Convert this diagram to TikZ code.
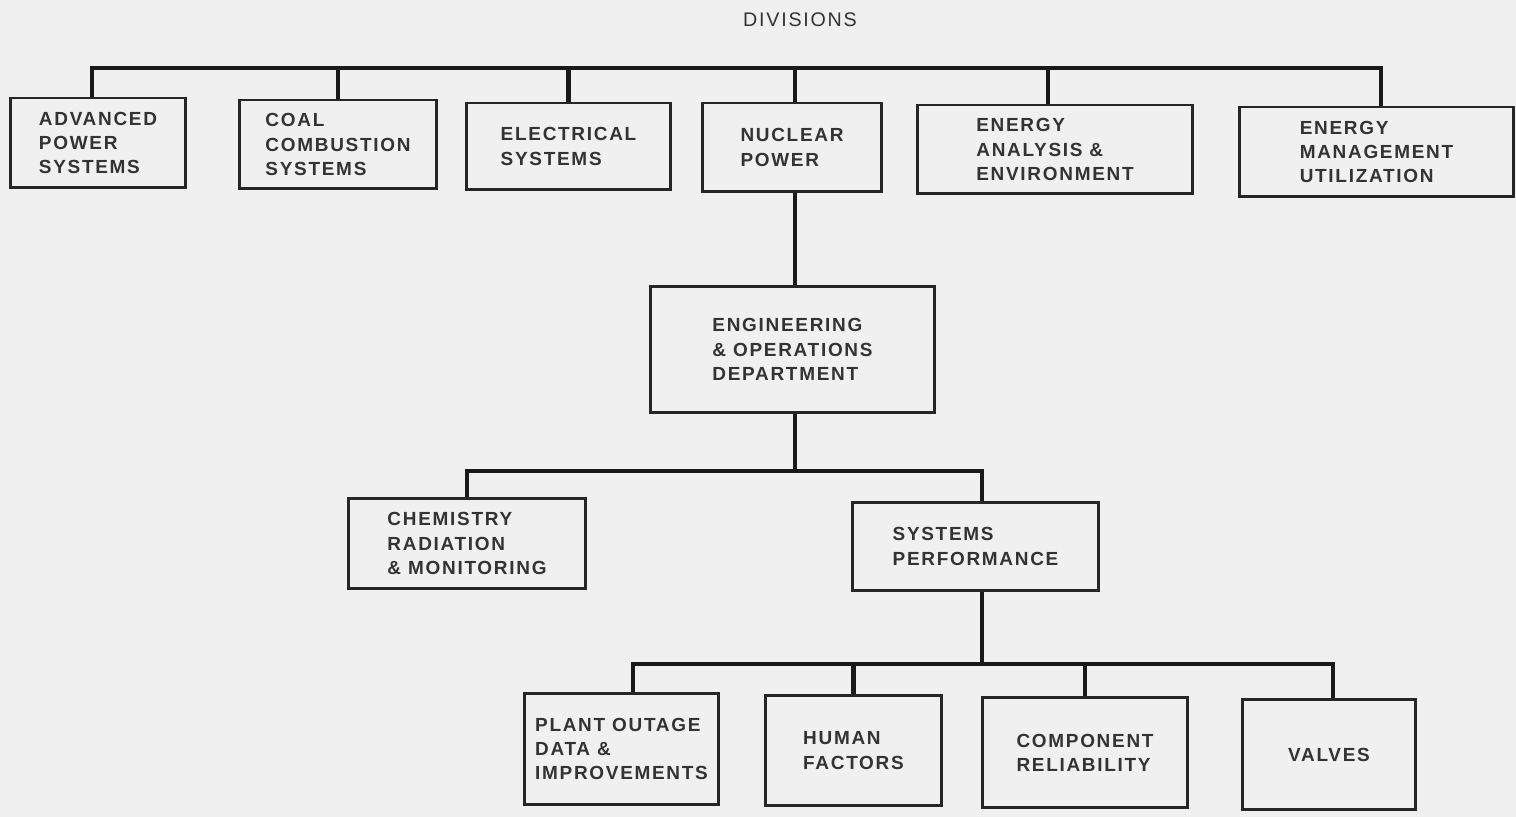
\documentclass[tikz,border=0pt]{standalone}
\usepackage{fontspec}
\setmainfont{Liberation Sans}[LetterSpace=9]
\usetikzlibrary{calc}

\tikzset{
  unit/.style={draw=black!85, line width=1.7pt, align=left, inner sep=0pt,
    text=black!80, font=\fontsize{10.8}{13.8}\selectfont\bfseries},
  wire/.style={draw=black!90, line width=2.6pt}
}

\begin{document}
\begin{tikzpicture}[x=0.02cm,y=-0.02cm]
% page and background
\fill[black!6] (0,0) rectangle (1516,817);
\useasboundingbox (0,0) rectangle (1516,817);

\node[text=black!80, font=\fontsize{11.2}{13.8}\selectfont] (div) at (800,20) {DIVISIONS};

%---------------- divisions (top row)
\node[unit, minimum width=3.52cm, minimum height=1.80cm] (aps) at (98,143)
  {ADVANCED\\POWER\\SYSTEMS};
\node[unit, minimum width=3.96cm, minimum height=1.78cm] (ccs) at (338,144.5)
  {COAL\\COMBUSTION\\SYSTEMS};
\node[unit, minimum width=4.10cm, minimum height=1.74cm] (els) at (568.5,146.5)
  {ELECTRICAL\\SYSTEMS};
\node[unit, minimum width=3.60cm, minimum height=1.78cm] (nuc) at (792,147.5)
  {NUCLEAR\\POWER};
\node[unit, minimum width=5.52cm, minimum height=1.78cm] (eae) at (1055,149.5)
  {ENERGY\\ANALYSIS \&\\ENVIRONMENT};
\node[unit, minimum width=5.50cm, minimum height=1.80cm] (emu) at (1376.5,152)
  {ENERGY\\MANAGEMENT\\UTILIZATION};

%---------------- department
\node[unit, minimum width=5.70cm, minimum height=2.54cm] (eod) at (792.5,349.5)
  {ENGINEERING\\\& OPERATIONS\\DEPARTMENT};

% sections
\node[unit, minimum width=4.76cm, minimum height=1.82cm] (crm) at (467,543.5)
  {CHEMISTRY\\RADIATION\\\& MONITORING};
\node[unit, minimum width=4.94cm, minimum height=1.78cm] (syp) at (975.5,546.5)
  {SYSTEMS\\PERFORMANCE};

% groups
\node[unit, minimum width=3.90cm, minimum height=2.24cm] (pod) at (621.5,749)
  {PLANT OUTAGE\\DATA \&\\IMPROVEMENTS};
\node[unit, minimum width=3.54cm, minimum height=2.22cm] (huf) at (853.5,750.5)
  {HUMAN\\FACTORS};
\node[unit, minimum width=4.12cm, minimum height=2.22cm] (cor) at (1085,752.5)
  {COMPONENT\\RELIABILITY};
\node[unit, minimum width=3.48cm, minimum height=2.22cm] (val) at (1329,754.5)
  {VALVES};

%---------------- bus lines
\coordinate (divbus) at (0,68);
\coordinate (deptbus) at (0,471);
\coordinate (perfbus) at (0,664);

% drop points on the box tops
\coordinate (aps-in) at ([xshift=-0.12cm]aps.north);
\coordinate (emu-in) at ([xshift=0.09cm]emu.north);
\coordinate (eae-in) at ([xshift=-0.14cm]eae.north);
\coordinate (nuc-in) at ([xshift=0.06cm]nuc.north);
\coordinate (syp-in) at ([xshift=0.13cm]syp.north);
\coordinate (pod-in) at ([xshift=0.23cm]pod.north);
\coordinate (val-in) at ([xshift=0.08cm]val.north);

\draw[wire] (aps-in) |- (emu-in |- divbus) -- (emu-in);
\foreach \n in {ccs.north,els.north,nuc-in,eae-in}
  \draw[wire] (\n) -- (\n |- divbus);

\draw[wire] (nuc.south -| nuc-in) -- (nuc-in |- eod.north);

\draw[wire] (eod.south -| nuc-in) -- (nuc-in |- deptbus);
\draw[wire] (crm.north) |- (syp-in |- deptbus) -- (syp-in);

\draw[wire] (syp.south -| syp-in) -- (syp-in |- perfbus);
\draw[wire] (pod-in) |- (val-in |- perfbus) -- (val-in);
\foreach \n in {huf,cor}
  \draw[wire] (\n.north) -- (\n.north |- perfbus);
\end{tikzpicture}
\end{document}
